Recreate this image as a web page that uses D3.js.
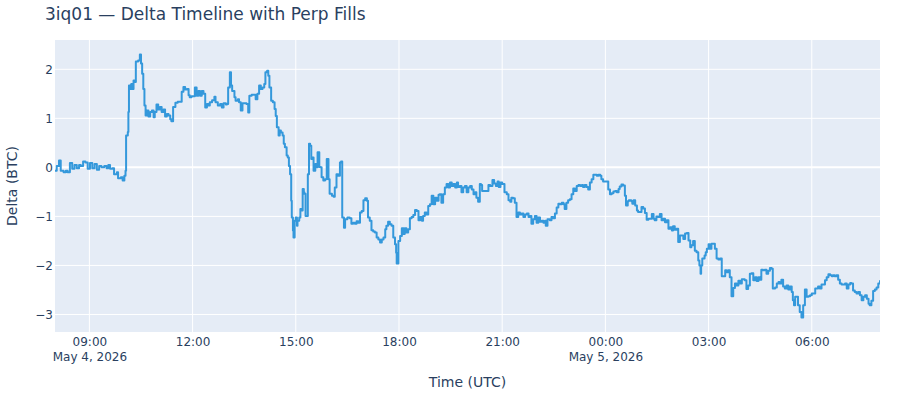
<!DOCTYPE html>
<html>
<head>
<meta charset="utf-8">
<style>
  body { margin: 0; background: #fff; }
  text { font-family: "DejaVu Sans", verdana, arial, sans-serif; fill: #2a3f5f; }
</style>
</head>
<body>
<script src="https://cdn.jsdelivr.net/npm/d3@7"></script>
<script>

// minutes after 2026-05-04 08:00 UTC, and running delta in BTC
var startTime = Date.UTC(2026, 4, 4, 8, 0);

var fillMinute = [
  0,3,7,10,15,19,22,26,30,34,38,42,45,49,53,57,61,65,69,73,77,81,86,90,93,96,100,103,108,110,115,118,121,123,
  124,127,128,129,131,133,135,137,140,141,145,148,150,152,154,156,158,160,163,166,169,172,174,177,180,183,186,
  189,192,195,198,201,203,206,210,214,218,221,224,227,230,233,235,238,
  244,247,250,253,256,259,262,265,268,270,274,278,280,284,288,291,294,298,300,302,305,307,309,313,315,319,321,
  324,327,330,334,337,339,343,347,350,353,356,359,362,365,367,370,372,374,377,380,383,385,387,390,392,394,397,
  399,401,404,406,408,410,412,413,415,416,418,420,422,423,426,428,430,432,434,435,437,440,441,443,445,447,449,
  451,454,456,458,461,463,465,468,471,474,477,479,483,486,488,491,494,
  497,499,501,504,506,510,514,517,520,523,526,529,532,535,538,541,544,546,549,552,555,558,561,564,567,570,573,
  576,578,581,584,587,590,593,595,596,599,602,605,608,610,613,616,619,622,625,628,631,634,637,640,642,645,648,
  651,654,657,660,663,666,669,671,674,677,680,683,686,689,692,695,698,701,703,706,709,712,715,718,721,724,727,730,
  733,735,738,741,743,745,749,753,756,759,763,766,769,772,774,777,780,784,788,791,794,796,799,802,805,808,811,
  814,817,820,823,826,828,831,834,837,840,843,846,849,852,855,856,859,863,866,869,872,875,878,881,884,887,889,
  892,895,898,901,904,907,910,913,916,919,921,924,927,930,933,936,939,942,945,948,951,953,956,959,962,965,968,971,974,
  977,980,983,985,988,991,994,996,999,1001,1005,1007,1009,1012,1015,1017,1020,1023,1026,1029,1032,1035,1038,1041,
  1044,1046,1049,1052,1055,1058,1061,1064,1067,1070,1073,1076,1078,1081,1084,1087,1090,1093,1096,1099,1102,1105,
  1108,1110,1113,1116,1119,1122,1124,1126,1127,1129,1133,1135,1137,1140,1142,1145,1148,1151,1154,1157,1160,1163,
  1166,1169,1171,1174,1177,1180,1183,1186,1189,1192,1195,1198,1201,1203,1206,1209,
  1212,1215,1218,1221,1224,1227,1230,1232,1235,1238,1241,1244,1247,1250,1252,1254,1256,1259,1262,1264,1267,1270,
  1273,1276,1279,1282,1285,1287,1289,1291,1294,1296,1299,1302,1305,1308,1311,1314,1317,1320,1323,1326,1328,1331,
  1334,1337,1340,1343,1346,1349,1352,1355,1357,1360,1363,1366,1369,1372,1375,1378,1381,1384,1387,1389,1392,1395,
  1398,1401,1404,1407,1410,1413,1416,1419,1421,1424,1427,1430,1433,1436,1439
];

var deltaBtc = [
  -0.07,0.03,0.14,-0.07,-0.1,-0.07,-0.1,0.09,-0.03,0.05,-0.02,0.05,0.03,0.12,0.1,-0.03,0.09,-0.02,0.07,-0.05,0.03,0,0.03,-0.02,0.05,-0.03,-0.02,-0.14,-0.1,-0.22,-0.2,-0.27,-0.17,-0.07,
  0.65,0.72,1.13,1.67,1.6,1.7,1.6,1.77,1.74,2.16,2.18,2.3,2.12,1.91,1.6,1.26,1.06,1.16,1.04,1.13,1.16,1.02,1.13,1.28,1.18,1.23,1.13,
  1.18,1.04,1.09,1.06,0.98,0.94,1.23,1.32,1.34,1.34,1.54,1.64,1.59,1.6,1.47,1.43,1.45,
  1.63,1.46,1.56,1.46,1.56,1.5,1.22,1.29,1.26,1.33,1.37,1.44,1.33,1.26,1.29,1.22,1.31,1.28,1.29,1.63,1.94,1.67,1.56,1.43,1.36,1.39,1.33,
  1.16,1.31,1.31,1.29,1.12,1.46,1.48,1.48,1.39,1.5,1.67,1.6,1.63,1.7,1.94,1.97,1.87,1.63,1.36,1.33,1.19,1.05,0.82,0.65,0.75,0.71,0.65,
  0.48,0.41,0.24,0.2,0.03,-0.14,-0.68,-1.02,-1.29,-1.43,-1.09,-1.02,-1.19,-1.09,-1.02,-0.85,-0.88,-0.44,-0.51,-0.54,-0.99,-0.99,-0.14,0.48,0.44,0.17,0.2,
  -0.07,0.07,0.0,0.31,0.01,0.0,-0.2,-0.27,-0.24,0.17,-0.24,-0.54,-0.58,-0.6,-0.41,-0.14,-0.17,
  0.1,0.12,-1.02,-1.23,-1.06,-1.02,-1.04,-1.15,-1.13,-1.15,-1.1,-1.13,-0.92,-0.89,-0.67,-0.63,-0.68,-1.02,-1.09,-1.28,-1.31,-1.33,-1.43,-1.47,-1.53,-1.47,-1.43,
  -1.26,-1.19,-1.11,-1.16,-1.19,-1.43,-1.57,-1.74,-1.96,-1.5,-1.4,-1.24,-1.36,-1.24,-1.33,-1.26,-1.04,-1.01,-0.97,-0.87,-0.89,-1.08,-1.01,-1.09,-0.99,-0.92,-0.96,
  -0.79,-0.75,-0.58,-0.75,-0.62,-0.68,-0.56,-0.55,-0.72,-0.55,-0.41,-0.34,-0.41,-0.31,-0.38,-0.34,-0.41,-0.31,-0.4,-0.38,-0.51,-0.41,-0.38,-0.51,-0.41,-0.38,-0.45,-0.55,
  -0.51,-0.62,-0.7,-0.34,-0.36,-0.48,-0.48,-0.48,-0.36,-0.38,-0.26,-0.33,-0.38,-0.29,-0.4,-0.31,-0.34,-0.51,-0.55,-0.67,-0.7,-0.62,-0.63,-0.72,-1.01,-0.92,-0.96,
  -0.94,-1.01,-0.96,-0.94,-1.01,-0.99,-1.15,-1.06,-0.99,-1.13,-1.02,-1.11,-1.09,-1.13,-1.09,-1.19,-1.06,-1.08,-1.01,-1.04,-0.94,-0.82,-0.74,-0.75,-0.72,-0.75,-0.85,
  -0.72,-0.67,-0.65,-0.55,-0.43,-0.48,-0.38,-0.36,-0.38,-0.36,-0.4,-0.36,-0.4,-0.45,-0.31,-0.24,-0.15,-0.15,-0.17,-0.15,-0.17,-0.24,-0.29,-0.29,-0.29,-0.45,-0.55,-0.53,-0.49,
  -0.48,-0.51,-0.44,-0.39,-0.35,-0.37,-0.58,-0.78,-0.69,-0.67,-0.69,-0.74,-0.67,-0.78,-0.88,-0.91,-0.91,-0.81,-0.84,-0.93,-1.07,-1.05,-1.05,-0.95,
  -1.05,-1.08,-1.0,-1.01,-0.95,-1.08,-1.05,-1.12,-1.08,-1.25,-1.22,-1.29,-1.2,-1.27,-1.25,-1.52,-1.39,-1.39,-1.46,-1.35,-1.34,-1.49,
  -1.63,-1.59,-1.5,-1.7,-1.73,-1.9,-2.0,-2.17,-2.0,-1.86,-1.8,-1.73,-1.66,-1.57,-1.66,-1.56,-1.56,-1.66,-1.86,-1.88,-1.86,-2.22,
  -2.22,-2.1,-2.14,-2.1,-2.24,-2.63,-2.46,-2.37,-2.41,-2.31,-2.37,-2.28,-2.28,-2.3,-2.48,-2.41,
  -2.17,-2.16,-2.3,-2.24,-2.32,-2.24,-2.29,-2.09,-2.1,-2.09,-2.17,-2.11,-2.05,-2.07,-2.47,-2.47,-2.45,-2.37,-2.34,-2.37,-2.29,-2.43,
  -2.47,-2.41,-2.49,-2.43,-2.54,-2.71,-2.81,-2.64,-2.64,-2.81,-2.95,-3.06,-2.81,-2.49,-2.64,-2.63,-2.61,-2.57,-2.57,-2.47,-2.47,-2.43,
  -2.47,-2.39,-2.39,-2.3,-2.24,-2.18,-2.2,-2.22,-2.2,-2.22,-2.2,-2.29,-2.37,-2.39,-2.39,-2.37,-2.47,-2.39,-2.36,-2.37,-2.51,-2.54,
  -2.57,-2.54,-2.61,-2.71,-2.64,-2.61,-2.68,-2.78,-2.81,-2.72,-2.52,-2.49,-2.45,-2.37,-2.3
];

var yTicks = [-3, -2, -1, 0, 1, 2];
var titleText = "3iq01 \u2014 Delta Timeline with Perp Fills";
var xTitle = "Time (UTC)";
var yTitle = "Delta (BTC)";

var margin = {top: 40, right: 20, bottom: 68, left: 55},
    width = 900 - margin.left - margin.right,
    height = 400 - margin.top - margin.bottom;

var data = fillMinute.map((m, i) => ({t: new Date(startTime + m * 60000), v: deltaBtc[i]}));

var svg = d3.select("body").append("svg")
    .attr("width", 900)
    .attr("height", 400);

var x = d3.scaleUtc()
    .domain(d3.extent(data, d => d.t))
    .range([0, width]);

// plotly-ish autorange: 5% padding of the final span on each side
var ext = d3.extent(data, d => d.v);
var pad = (ext[1] - ext[0]) * 0.05 / 0.9;
var y = d3.scaleLinear()
    .domain([ext[0] - pad, ext[1] + pad])
    .range([height, 0]);

var g = svg.append("g").attr("transform", `translate(${margin.left},${margin.top})`);

g.append("rect")
    .attr("width", width)
    .attr("height", height)
    .attr("fill", "#E5ECF6");

var xTicks = x.ticks(d3.utcHour.every(3));

// grid
g.selectAll("line.xgrid")
    .data(xTicks)
    .join("line")
    .attr("class", "xgrid")
    .attr("x1", d => x(d)).attr("x2", d => x(d))
    .attr("y1", 0).attr("y2", height)
    .attr("stroke", "#fff")
    .attr("stroke-width", 1);

g.selectAll("line.ygrid")
    .data(yTicks)
    .join("line")
    .attr("class", "ygrid")
    .attr("x1", 0).attr("x2", width)
    .attr("y1", d => y(d)).attr("y2", d => y(d))
    .attr("stroke", "#fff")
    .attr("stroke-width", d => d === 0 ? 2 : 1);

// axes (labels only, plotly style)
var fmtTime = d3.utcFormat("%H:%M");
var fmtDate = d3.utcFormat("%b %-d, %Y");

var xAxis = g.append("g")
    .attr("transform", `translate(0,${height})`)
    .call(d3.axisBottom(x).tickValues(xTicks).tickSize(0).tickPadding(0).tickFormat(() => ""));
xAxis.select(".domain").remove();
xAxis.selectAll(".tick text").remove();
xAxis.selectAll(".tick").each(function(d, i) {
  var tick = d3.select(this);
  tick.append("text")
      .attr("text-anchor", "middle")
      .attr("font-size", 12)
      .attr("y", 13.5)
      .text(fmtTime(d));
  // date shown under the first tick and at each midnight
  if (i === 0 || d.getUTCHours() === 0) {
    tick.append("text")
        .attr("text-anchor", "middle")
        .attr("font-size", 12)
        .attr("y", 29)
        .text(fmtDate(d));
  }
});

var yAxis = g.append("g")
    .call(d3.axisLeft(y).tickValues(yTicks).tickSize(0).tickPadding(2)
      .tickFormat(d => d < 0 ? "\u2212" + Math.abs(d) : d));
yAxis.select(".domain").remove();
yAxis.selectAll(".tick text")
    .attr("font-size", 12)
    .attr("font-family", null)
    .style("fill", "#2a3f5f");

// the line
svg.append("clipPath").attr("id", "plotclip")
  .append("rect").attr("width", width).attr("height", height);

var line = d3.line()
    .x(d => x(d.t))
    .y(d => y(d.v))
    .curve(d3.curveStepAfter);

g.append("path")
    .datum(data)
    .attr("clip-path", "url(#plotclip)")
    .attr("fill", "none")
    .attr("stroke", "#3498db")
    .attr("stroke-width", 2)
    .attr("stroke-linejoin", "round")
    .attr("d", line);

// titles
svg.append("text")
    .attr("x", 45)
    .attr("y", 20)
    .attr("font-size", 17)
    .text(titleText);

svg.append("text")
    .attr("x", margin.left + width / 2)
    .attr("y", 387)
    .attr("text-anchor", "middle")
    .attr("font-size", 14)
    .text(xTitle);

svg.append("text")
    .attr("transform", `translate(17,${margin.top + height / 2}) rotate(-90)`)
    .attr("text-anchor", "middle")
    .attr("font-size", 14)
    .text(yTitle);

</script>
</body>
</html>
